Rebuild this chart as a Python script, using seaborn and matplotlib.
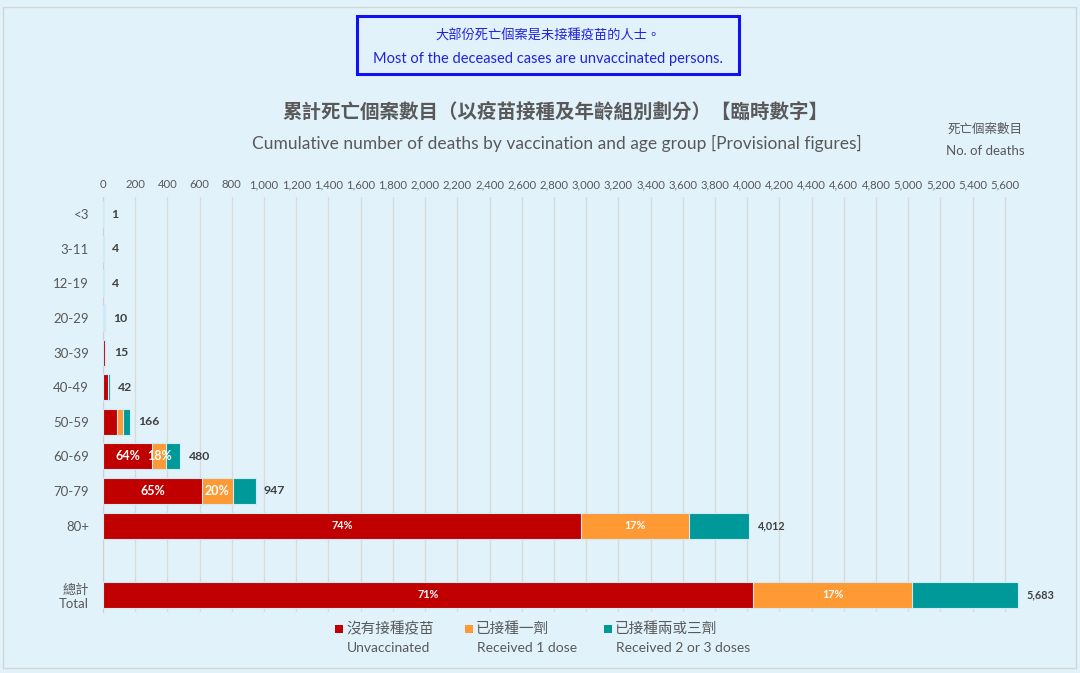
import numpy as np
import pandas as pd
import matplotlib
matplotlib.use("Agg")
import matplotlib.pyplot as plt
from matplotlib.patches import Rectangle
from matplotlib.ticker import FuncFormatter, MultipleLocator
import seaborn as sns

sns.set_style("white")
plt.rcParams['font.family'] = ['Lato', 'Noto Sans CJK TC', 'DejaVu Sans']

# data
age_groups = ['<3', '3-11', '12-19', '20-29', '30-39', '40-49', '50-59', '60-69', '70-79', '80+', '總計\nTotal']
unvaccinated = [1, 3, 3, 8, 11, 30, 88, 307, 616, 2969, 4036]
one_dose = [0, 1, 0, 1, 2, 4, 36, 86, 189, 670, 989]
two_three_doses = [0, 0, 1, 1, 2, 8, 42, 87, 142, 373, 658]
series_zh = ['沒有接種疫苗', '已接種一劑', '已接種兩或三劑']
series_en = ['Unvaccinated', 'Received 1 dose', 'Received 2 or 3 doses']
colors = ['#C00000', '#FF9933', '#009999']

BG = '#E1F2FB'
GREY = '#595959'

df = pd.DataFrame({
    'group': age_groups,
    'unvacc': unvaccinated,
    'one': one_dose,
    'two': two_three_doses,
})
df['total'] = df['unvacc'] + df['one'] + df['two']
df['cum1'] = df['unvacc'] + df['one']

# empty slot between 80+ and total
order = age_groups[:-1] + [''] + age_groups[-1:]

fig = plt.figure(figsize=(10.8, 6.73), dpi=100)
fig.patch.set_facecolor(BG)
ax = fig.add_axes([103 / 1080, 1 - 612 / 673, (1021 - 103) / 1080, (612 - 197) / 673])
ax.set_facecolor(BG)

# stacked bars, drawn back to front
for col, c in zip(['total', 'cum1', 'unvacc'], colors[::-1]):
    sns.barplot(data=df, y='group', x=col, order=order, orient='h', color=c, saturation=1,
                width=0.75, edgecolor='#D2EAF5', linewidth=0.8, ax=ax, zorder=3)

ax.set_xlim(0, 5700)
ax.set_ylim(11.5, -0.5)
ax.xaxis.set_major_locator(MultipleLocator(200))
ax.xaxis.set_major_formatter(FuncFormatter(lambda v, p: f'{int(v):,}'))
ax.xaxis.tick_top()
ax.tick_params(axis='x', length=0, labelsize=8.2, colors=GREY, pad=5)
ax.tick_params(axis='y', which='major', length=0, labelsize=9.5, colors=GREY, pad=10)
ax.set_yticks(np.arange(-0.5, 12, 1), minor=True)
ax.tick_params(axis='y', which='minor', length=4, color='#D0D0D0', width=1)
ax.grid(axis='x', color='#D9D9D9', linewidth=1, zorder=0)
ax.set_axisbelow(True)
ax.set_xlabel('')
ax.set_ylabel('')
for s in ['top', 'right', 'bottom']:
    ax.spines[s].set_visible(False)
ax.spines['left'].set_color('#D0D0D0')

# value and percentage labels
for _, r in df.iterrows():
    y = order.index(r['group'])
    big = r['group'] in ('80+', '總計\nTotal')
    ax.annotate(f"{r['total']:,}", (r['total'], y), xytext=(6, 0), textcoords='offset points',
                va='center', ha='left', fontsize=7.8 if big else 8.8, fontweight='bold', color='#404040')
    if r['total'] >= 400:
        p1 = round(100 * r['unvacc'] / r['total'])
        p2 = round(100 * r['one'] / r['total'])
        ax.text(r['unvacc'] / 2, y, f'{p1}%', ha='center', va='center', color='white',
                fontsize=7.8 if big else 9, fontweight='bold', zorder=5)
        ax.text(r['unvacc'] + r['one'] / 2, y, f'{p2}%', ha='center', va='center', color='white',
                fontsize=7.8 if big else 9, fontweight='bold', zorder=5)

# note box
fig.patches.append(Rectangle((357 / 1080, 1 - 74 / 673), 382 / 1080, 58 / 673, transform=fig.transFigure,
                             facecolor='none', edgecolor='#1010F0', linewidth=2.2))
fig.text(548 / 1080, 1 - 35 / 673, '大部份死亡個案是未接種疫苗的人士。', ha='center', va='center',
         color='#2222DD', fontsize=9.5)
fig.text(548 / 1080, 1 - 59 / 673, 'Most of the deceased cases are unvaccinated persons.', ha='center',
         va='center', color='#2222DD', fontsize=10.5)

# titles
fig.text(555 / 1080, 1 - 111 / 673, '累計死亡個案數目（以疫苗接種及年齡組別劃分）【臨時數字】', ha='center',
         va='center', color=GREY, fontsize=14, fontweight='bold')
fig.text(557 / 1080, 1 - 143 / 673, 'Cumulative number of deaths by vaccination and age group [Provisional figures]',
         ha='center', va='center', color=GREY, fontsize=12.5)
fig.text(985 / 1080, 1 - 129 / 673, '死亡個案數目', ha='center', va='center', color=GREY, fontsize=9)
fig.text(985 / 1080, 1 - 151 / 673, 'No. of deaths', ha='center', va='center', color=GREY, fontsize=9.5)

# legend
for x0, zh, en, c in zip([335, 465, 604], series_zh, series_en, colors):
    fig.patches.append(Rectangle((x0 / 1080, 1 - 633 / 673), 8 / 1080, 8 / 673, transform=fig.transFigure,
                                 facecolor=c, edgecolor='none'))
    fig.text((x0 + 11) / 1080, 1 - 629 / 673, zh, ha='left', va='center', color=GREY, fontsize=10.5)
    fig.text((x0 + 12) / 1080, 1 - 648 / 673, en, ha='left', va='center', color=GREY, fontsize=10)

# outer frame
fig.patches.append(Rectangle((3 / 1080, 5 / 673), 1073 / 1080, 661 / 673, transform=fig.transFigure,
                             facecolor='none', edgecolor='#D5D5D5', linewidth=1))

fig.savefig('out.png', dpi=100, facecolor=BG)
